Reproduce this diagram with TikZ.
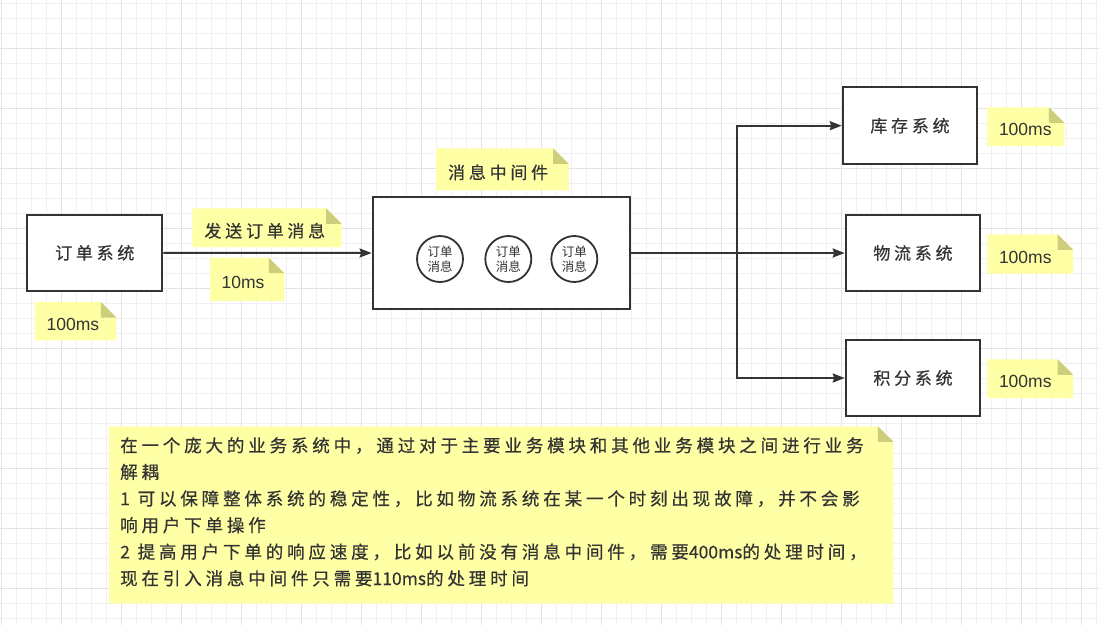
\documentclass[tikz,border=0pt]{standalone}
\usepackage{fontspec}
\setmainfont{Liberation Sans}
\newfontfamily\cjk{Noto Sans CJK SC}[LetterSpace=22,FakeBold=0.5]
\newfontfamily\cjklat{Noto Sans CJK SC}[FakeBold=0.5]
\newfontfamily\cjkplain{Noto Sans CJK SC}
\usetikzlibrary{arrows.meta,calc}
\definecolor{ink}{HTML}{333333}
\definecolor{notey}{HTML}{FFFFA6}
\definecolor{notefold}{HTML}{CDCD7C}
\definecolor{gridminor}{HTML}{F0F0F0}
\definecolor{gridmajor}{HTML}{E3E3E3}
\pgfdeclarelayer{bg}
\pgfsetlayers{bg,main}
\newcommand\lat[1]{{\cjklat #1}}
\tikzset{
  sysbox/.style={draw=ink, line width=2pt, fill=white, minimum width=134.6pt, minimum height=76pt, inner sep=0pt, text=ink, font=\cjk\fontsize{17}{19}\selectfont},
  msgcircle/.style={circle, draw=ink, line width=1.8pt, fill=white, minimum size=46pt, inner sep=0pt, align=center, text=ink, font=\cjkplain\fontsize{12.5}{15}\selectfont},
  notems/.style={inner xsep=11.5pt, inner ysep=0pt, align=left, text=ink, text height=18.5pt, text depth=0pt, font=\fontsize{17.5}{20}\selectfont},
  notecjk/.style={inner xsep=12pt, inner ysep=0pt, align=left, text=ink, text height=21pt, text depth=2pt, font=\cjk\fontsize{17}{19}\selectfont},
  conn/.style={draw=ink, line width=2pt, -{Stealth[length=12pt,width=9pt,inset=1.5pt]}}
}
% fill of a sticky note from its node anchors (fold size 15.5pt)
\newcommand\notepaper[1]{%
  \begin{pgfonlayer}{bg}
  \fill[notey] (#1.north west) -- ([xshift=-15.5pt]#1.north east) -- ([yshift=-15.5pt]#1.north east) -- (#1.south east) -- (#1.south west) -- cycle;
  \fill[notefold] ([xshift=-15.5pt]#1.north east) -- ([yshift=-15.5pt]#1.north east) -- ([xshift=-15.5pt,yshift=-15.5pt]#1.north east) -- cycle;
  \end{pgfonlayer}}
\begin{document}
\begin{tikzpicture}[x=1pt,y=-1pt]
\useasboundingbox (0,0) rectangle (1099,625);
% grid
\begin{pgfonlayer}{bg}
\fill[white] (0,0) rectangle (1099,625);
\foreach \gx in {1,16,...,1099} \draw[gridminor, line width=1pt] (\gx,0) -- (\gx,625);
\foreach \gy in {3,18,...,625} \draw[gridminor, line width=1pt] (0,\gy) -- (1099,\gy);
\foreach \gx in {1,61,...,1099} \draw[gridmajor, line width=1pt] (\gx,0) -- (\gx,625);
\foreach \gy in {48,108,...,625} \draw[gridmajor, line width=1pt] (0,\gy) -- (1099,\gy);
\end{pgfonlayer}

% systems
\node[sysbox, minimum width=135pt, minimum height=75.7pt] (order) at (94.8,252.8) {订单系统};
\node[draw=ink, line width=2pt, fill=white, minimum width=257.3pt, minimum height=112.3pt, inner sep=0pt] (mq) at (501.3,253) {};
\node[sysbox, minimum height=76.7pt] (stock) at (910,125.7) {库存系统};
\node[sysbox] (logi) at (913,253) {物流系统};
\node[sysbox] (points) at (913,378) {积分系统};

% messages inside middleware
\node[msgcircle] (m1) at (440,259) {订单\\消息};
\node[msgcircle] (m2) at (508.3,259) {订单\\消息};
\node[msgcircle] (m3) at (574.3,259) {订单\\消息};

% connectors
\coordinate (split) at (737.3,253);
\draw[conn] (order.east) -- (mq.west);
\draw[conn] (mq.east) -- (logi.west);
\draw[conn] (split) |- (stock.west);
\draw[conn] (split) |- (points.west);

% sticky notes
\node[notems, text width=81pt-23pt, minimum height=38pt, anchor=north west] (n0) at (35,302) {100ms};
\notepaper{n0}
\node[notecjk, text width=149pt-24pt, minimum height=38.5pt, anchor=north west] (nsend) at (192.3,208.3) {发送订单消息};
\notepaper{nsend}
\node[notems, text width=74pt-23pt, minimum height=43pt, anchor=north west] (n10) at (210,257.7) {10ms};
\notepaper{n10}
\node[notecjk, text width=132.3pt-24pt, minimum height=41.7pt, anchor=north west] (nmq) at (436,148.3) {消息中间件};
\notepaper{nmq}
\node[notems, text width=76.7pt-23pt, minimum height=38.4pt, anchor=north west] (ns) at (987.3,107.3) {100ms};
\notepaper{ns}
\node[notems, text width=85.4pt-23pt, minimum height=39pt, anchor=north west] (nl) at (987.3,234.3) {100ms};
\notepaper{nl}
\node[notems, text width=85.4pt-23pt, minimum height=38.4pt, anchor=north west] (np) at (987.3,359.3) {100ms};
\notepaper{np}

% summary note
\node[inner sep=0pt, minimum width=784pt, minimum height=177pt, anchor=north west] (summary) at (109,426.3) {};
\notepaper{summary}
\node[anchor=north west, inner sep=0pt, align=left, text=ink, font=\cjk\fontsize{17.5}{26.6}\selectfont] (summarytext) at (120,437) {在一个庞大的业务系统中，通过对于主要业务模块和其他业务模块之间进行业务\\解耦\\\lat{1} 可以保障整体系统的稳定性，比如物流系统在某一个时刻出现故障，并不会影\\响用户下单操作\\\lat{2} 提高用户下单的响应速度，比如以前没有消息中间件，需要\lat{400ms}的处理时间，\\现在引入消息中间件只需要\lat{110ms}的处理时间};
\end{tikzpicture}
\end{document}
